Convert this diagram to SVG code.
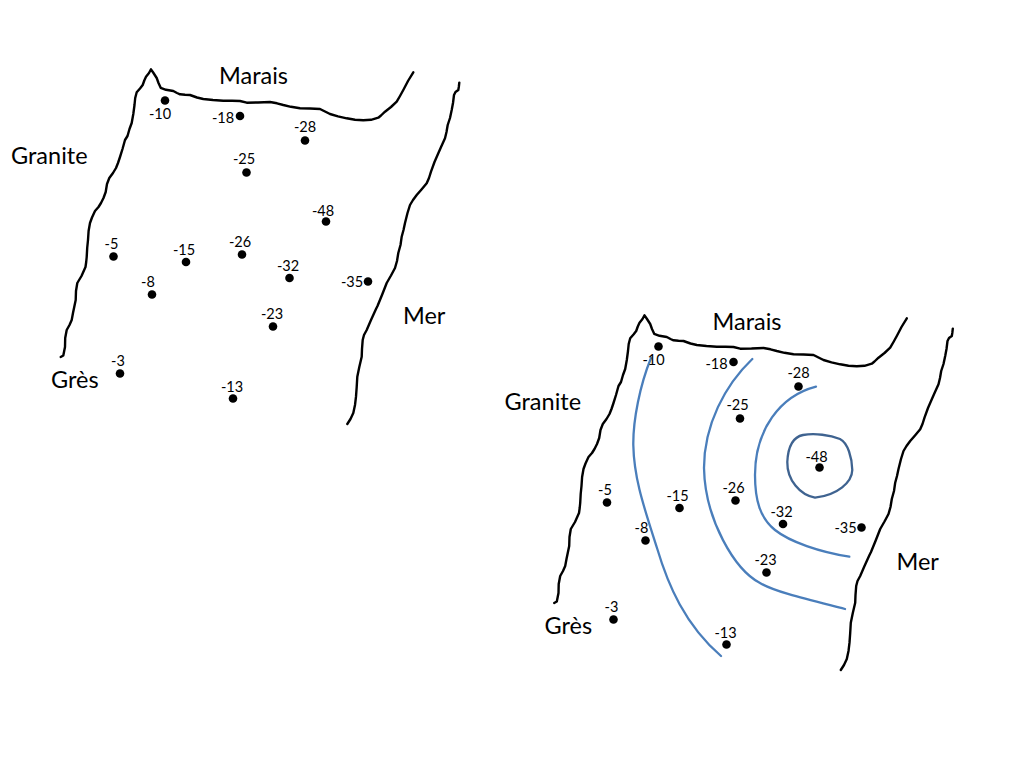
<svg xmlns="http://www.w3.org/2000/svg" xmlns:xlink="http://www.w3.org/1999/xlink" width="1024" height="768" viewBox="0 0 1024 768">
<style>
.coast{fill:none;stroke:#000;stroke-width:2.4;stroke-linejoin:round;stroke-linecap:round}
.iso{fill:none;stroke:#4a7ebb;stroke-width:2.3;stroke-linecap:round}
.iso2{fill:none;stroke:#3f6390;stroke-width:2.3}
.big{font:23.5px Lato,"Liberation Sans",sans-serif;fill:#000}
.num{font:14.5px Lato,"Liberation Sans",sans-serif;fill:#000;text-anchor:middle}
circle{fill:#000}
</style>
<defs>
<g id="coast">
<path class="coast" d="M60.7,357 L63.3,355.5 L64.2,351 L65,347 L65.2,338 L66.7,330 L69.5,325 L71.7,320 L73,313 L75.7,300 L76,291 L77.3,283 L81.5,276 L85.5,267 L86.2,262 L86.7,257 L87.2,248 L88,240 L88.6,231 L90,223 L92,217.5 L95,211 L98.5,207 L101,203 L103.5,198 L105.7,192 L107,184 L109.3,178 L113,173 L116,168 L118,163 L120,157 L122.5,149 L125,140 L127.5,136 L129.5,129 L131.7,123 L133.3,114 L134.5,105 L135.2,98 L136.7,92.3 L140,88.5 L142.7,85 L144.3,80.5 L146,76.7 L149,73 L151,69.3 L153.5,73 L156.7,78 L158.5,83 L160.7,87.8 L166,89.8 L173.3,91 L177,93 L180,94.3 L185,94.8 L190,95 L197,97.5 L203.3,99 L213,100 L223.3,100.7 L232,100.8 L240,101 L246.7,102.7 L258,102.5 L270,102 L277,103.3 L283.3,105 L291,106.8 L300,108.3 L310,108.5 L320,109 L325,111.5 L330,114 L338,116.3 L346.7,118.3 L355,119.7 L363.3,120.3 L371,119.8 L378.3,117.7 L381,115.5 L385,111.7 L391,107 L396.7,101.7 L400,96 L403.3,90 L408,81 L413.3,72.3"/>
<path class="coast" d="M459.3,82.7 L458.8,87 L458.3,90 L455.5,92 L454,95 L453,103 L451.7,110 L450,118 L447.7,125 L446.5,132 L445,138.3 L441.5,146 L438.3,153.3 L434.5,162 L431,171.7 L429,178 L426.7,183.3 L421.5,189.5 L416.7,195 L413,200 L410,205 L407.5,213 L405,223 L403.5,230 L401.7,236.7 L400.5,245 L398.3,253 L397,261 L395,268 L391,275.5 L386.7,283 L382,295 L377.5,306 L376,309 L371,320 L366.7,330 L364,335 L362.7,340 L362,349 L361.7,356.7 L359.3,367 L357.3,376.7 L356.7,387 L356,396.7 L355,405 L353.3,413 L350.5,419 L347.3,424"/>
</g>
</defs>

<g id="map-before">
<use href="#coast"/>
<g id="labels-before">
<text class="big" x="219" y="84">Marais</text>
<text class="big" x="11" y="164">Granite</text>
<text class="big" x="51" y="388">Grès</text>
<text class="big" x="403" y="324">Mer</text>
</g>
<g id="points-before">
<g id="a-10"><circle cx="165" cy="100.5" r="4.3"/><text class="num" x="160" y="119">-10</text></g>
<g id="a-18"><circle cx="240" cy="116" r="4.3"/><text class="num" x="223" y="122.5">-18</text></g>
<g id="a-28"><circle cx="305" cy="140.5" r="4.3"/><text class="num" x="305" y="132">-28</text></g>
<g id="a-25"><circle cx="246.5" cy="172.5" r="4.3"/><text class="num" x="244" y="164">-25</text></g>
<g id="a-48"><circle cx="326" cy="221.5" r="4.3"/><text class="num" x="323" y="216">-48</text></g>
<g id="a-5"><circle cx="113.5" cy="256.5" r="4.3"/><text class="num" x="111.5" y="249">-5</text></g>
<g id="a-15"><circle cx="186" cy="262" r="4.3"/><text class="num" x="184" y="255">-15</text></g>
<g id="a-26"><circle cx="242" cy="254.5" r="4.3"/><text class="num" x="240" y="246.5">-26</text></g>
<g id="a-32"><circle cx="289.5" cy="278" r="4.3"/><text class="num" x="288" y="271">-32</text></g>
<g id="a-35"><circle cx="368" cy="281.5" r="4.3"/><text class="num" x="352" y="287">-35</text></g>
<g id="a-8"><circle cx="152" cy="294.5" r="4.3"/><text class="num" x="148" y="287">-8</text></g>
<g id="a-23"><circle cx="273" cy="326.5" r="4.3"/><text class="num" x="272" y="319">-23</text></g>
<g id="a-3"><circle cx="120" cy="373.5" r="4.3"/><text class="num" x="118" y="365.5">-3</text></g>
<g id="a-13"><circle cx="233" cy="398.5" r="4.3"/><text class="num" x="232" y="391.5">-13</text></g>
</g>
</g>

<g id="map-after" transform="translate(493.5,246)">
<use href="#coast"/>
</g>
<g id="isolines">
<path class="iso" d="M651,358 C640,385 633,420 633.3,445 C634,480 645,510 657,548 C668,585 685,625 721,656"/>
<path class="iso" d="M752.3,359 C725,385 704,425 704,468 C705,520 735,570 760,583 C775,592 810,600 845,609"/>
<path class="iso" d="M816,386.7 C780,396 755,430 755,475 C755,500 760,518 775,530 C790,542 820,552 849.3,556.7"/>
<path class="iso2" d="M803,435 C815,433 830,435 840,439 C848,443 852,458 852.3,470 C852,482 838,495 815,497.7 C800,495 787,480 787.3,462 C788,447 793,437 803,435 Z"/>
</g>
<g transform="translate(493.5,246)">
<g id="labels-after">
<text class="big" x="219" y="84">Marais</text>
<text class="big" x="11" y="164">Granite</text>
<text class="big" x="51" y="388">Grès</text>
<text class="big" x="403" y="324">Mer</text>
</g>
<g id="points-after">
<g id="b-10"><circle cx="165" cy="100.5" r="4.3"/><text class="num" x="160" y="119">-10</text></g>
<g id="b-18"><circle cx="240" cy="116" r="4.3"/><text class="num" x="223" y="122.5">-18</text></g>
<g id="b-28"><circle cx="305" cy="140.5" r="4.3"/><text class="num" x="305" y="132">-28</text></g>
<g id="b-25"><circle cx="246.5" cy="172.5" r="4.3"/><text class="num" x="244" y="164">-25</text></g>
<g id="b-48"><circle cx="326" cy="221.5" r="4.3"/><text class="num" x="323" y="216">-48</text></g>
<g id="b-5"><circle cx="113.5" cy="256.5" r="4.3"/><text class="num" x="111.5" y="249">-5</text></g>
<g id="b-15"><circle cx="186" cy="262" r="4.3"/><text class="num" x="184" y="255">-15</text></g>
<g id="b-26"><circle cx="242" cy="254.5" r="4.3"/><text class="num" x="240" y="246.5">-26</text></g>
<g id="b-32"><circle cx="289.5" cy="278" r="4.3"/><text class="num" x="288" y="271">-32</text></g>
<g id="b-35"><circle cx="368" cy="281.5" r="4.3"/><text class="num" x="352" y="287">-35</text></g>
<g id="b-8"><circle cx="152" cy="294.5" r="4.3"/><text class="num" x="148" y="287">-8</text></g>
<g id="b-23"><circle cx="273" cy="326.5" r="4.3"/><text class="num" x="272" y="319">-23</text></g>
<g id="b-3"><circle cx="120" cy="373.5" r="4.3"/><text class="num" x="118" y="365.5">-3</text></g>
<g id="b-13"><circle cx="233" cy="398.5" r="4.3"/><text class="num" x="232" y="391.5">-13</text></g>
</g>
</g>
</svg>
